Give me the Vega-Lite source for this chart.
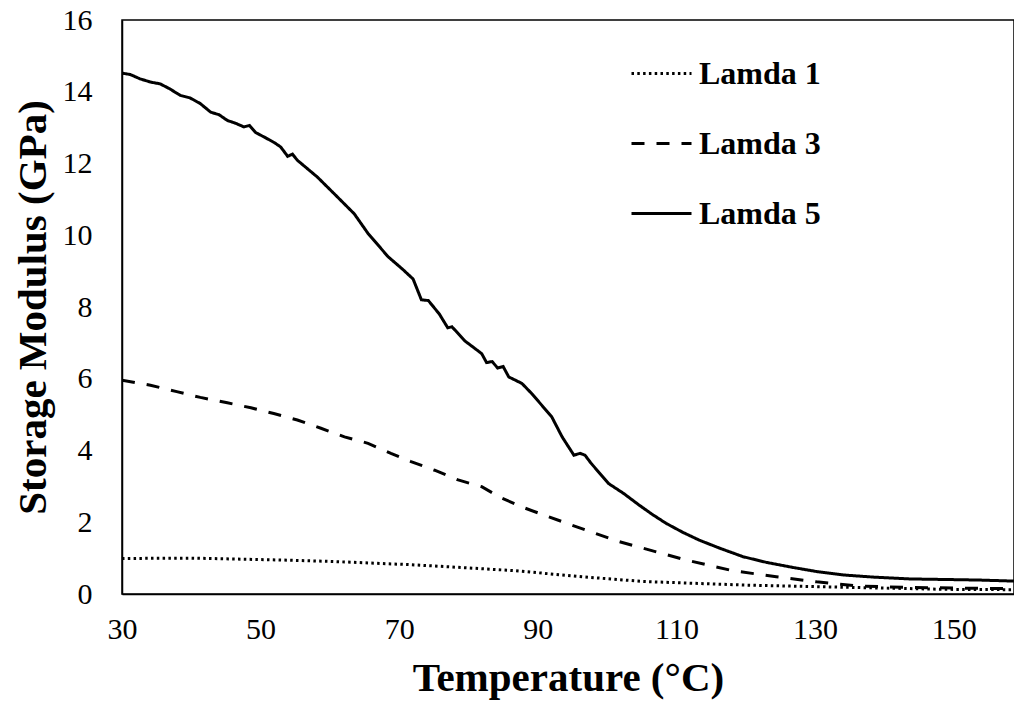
{
  "$schema": "https://vega.github.io/schema/vega-lite/v6.json",
  "width": 892,
  "height": 574,
  "autosize": {"type": "none"},
  "padding": {"left": 122, "top": 20, "right": 0, "bottom": 118},
  "background": "white",
  "config": {
    "font": "Liberation Serif",
    "view": {"stroke": "black", "strokeWidth": 1.5},
    "axis": {
      "labelFont": "Liberation Serif",
      "labelFontSize": 30,
      "labelFontWeight": "normal",
      "labelColor": "black",
      "titleFont": "Liberation Serif",
      "titleFontSize": 41,
      "titleFontWeight": "bold",
      "titleColor": "black",
      "domainColor": "black",
      "domainWidth": 1.5,
      "ticks": false,
      "grid": false
    },
    "legend": {
      "orient": "none",
      "legendX": 508,
      "legendY": 22,
      "symbolType": "stroke",
      "symbolSize": 3600,
      "symbolStrokeWidth": 3,
      "symbolStrokeColor": "black",
      "labelFont": "Liberation Serif",
      "labelFontSize": 32,
      "labelFontWeight": "bold",
      "labelColor": "black",
      "labelOffset": 6,
      "rowPadding": 22,
      "padding": 0
    }
  },
  "data": {
    "values": [
      {"s": "Lamda 5", "t": 30, "v": 14.52},
      {"s": "Lamda 5", "t": 31.2, "v": 14.48},
      {"s": "Lamda 5", "t": 32.6, "v": 14.36},
      {"s": "Lamda 5", "t": 34.1, "v": 14.27},
      {"s": "Lamda 5", "t": 35.5, "v": 14.22},
      {"s": "Lamda 5", "t": 36.9, "v": 14.08},
      {"s": "Lamda 5", "t": 38.4, "v": 13.9},
      {"s": "Lamda 5", "t": 39.8, "v": 13.83},
      {"s": "Lamda 5", "t": 41.3, "v": 13.67},
      {"s": "Lamda 5", "t": 42.8, "v": 13.43},
      {"s": "Lamda 5", "t": 44.0, "v": 13.36},
      {"s": "Lamda 5", "t": 45.2, "v": 13.2},
      {"s": "Lamda 5", "t": 46.4, "v": 13.12},
      {"s": "Lamda 5", "t": 47.6, "v": 13.02},
      {"s": "Lamda 5", "t": 48.4, "v": 13.06},
      {"s": "Lamda 5", "t": 49.3, "v": 12.86},
      {"s": "Lamda 5", "t": 50.5, "v": 12.74},
      {"s": "Lamda 5", "t": 52.0, "v": 12.58},
      {"s": "Lamda 5", "t": 52.9, "v": 12.46},
      {"s": "Lamda 5", "t": 53.9, "v": 12.2},
      {"s": "Lamda 5", "t": 54.6, "v": 12.26},
      {"s": "Lamda 5", "t": 55.3, "v": 12.09},
      {"s": "Lamda 5", "t": 58.2, "v": 11.62},
      {"s": "Lamda 5", "t": 60.6, "v": 11.16},
      {"s": "Lamda 5", "t": 63.5, "v": 10.6},
      {"s": "Lamda 5", "t": 65.5, "v": 10.05},
      {"s": "Lamda 5", "t": 68.4, "v": 9.4},
      {"s": "Lamda 5", "t": 70.5, "v": 9.05},
      {"s": "Lamda 5", "t": 72.0, "v": 8.78},
      {"s": "Lamda 5", "t": 73.2, "v": 8.2},
      {"s": "Lamda 5", "t": 74.2, "v": 8.18},
      {"s": "Lamda 5", "t": 75.8, "v": 7.8},
      {"s": "Lamda 5", "t": 77.0, "v": 7.42},
      {"s": "Lamda 5", "t": 77.6, "v": 7.45},
      {"s": "Lamda 5", "t": 79.5, "v": 7.05},
      {"s": "Lamda 5", "t": 81.9, "v": 6.7},
      {"s": "Lamda 5", "t": 82.6, "v": 6.45},
      {"s": "Lamda 5", "t": 83.4, "v": 6.48},
      {"s": "Lamda 5", "t": 84.2, "v": 6.3},
      {"s": "Lamda 5", "t": 85.0, "v": 6.34},
      {"s": "Lamda 5", "t": 85.8, "v": 6.05},
      {"s": "Lamda 5", "t": 87.7, "v": 5.87},
      {"s": "Lamda 5", "t": 89.1, "v": 5.59},
      {"s": "Lamda 5", "t": 92.0, "v": 4.94},
      {"s": "Lamda 5", "t": 93.5, "v": 4.38},
      {"s": "Lamda 5", "t": 95.2, "v": 3.87},
      {"s": "Lamda 5", "t": 96.1, "v": 3.92},
      {"s": "Lamda 5", "t": 96.8, "v": 3.87},
      {"s": "Lamda 5", "t": 97.7, "v": 3.64},
      {"s": "Lamda 5", "t": 100.2, "v": 3.08},
      {"s": "Lamda 5", "t": 102.4, "v": 2.8},
      {"s": "Lamda 5", "t": 104.6, "v": 2.48},
      {"s": "Lamda 5", "t": 106.5, "v": 2.22},
      {"s": "Lamda 5", "t": 108.5, "v": 1.97},
      {"s": "Lamda 5", "t": 110.9, "v": 1.72},
      {"s": "Lamda 5", "t": 113.3, "v": 1.5},
      {"s": "Lamda 5", "t": 116.2, "v": 1.28},
      {"s": "Lamda 5", "t": 119.6, "v": 1.04},
      {"s": "Lamda 5", "t": 123.0, "v": 0.88},
      {"s": "Lamda 5", "t": 126.8, "v": 0.74},
      {"s": "Lamda 5", "t": 130.4, "v": 0.62},
      {"s": "Lamda 5", "t": 134.1, "v": 0.53},
      {"s": "Lamda 5", "t": 138.5, "v": 0.47},
      {"s": "Lamda 5", "t": 143.7, "v": 0.42},
      {"s": "Lamda 5", "t": 153.4, "v": 0.39},
      {"s": "Lamda 5", "t": 158.7, "v": 0.36},
      {"s": "Lamda 3", "t": 30, "v": 5.96},
      {"s": "Lamda 3", "t": 34.1, "v": 5.82},
      {"s": "Lamda 3", "t": 37.9, "v": 5.64},
      {"s": "Lamda 3", "t": 41.3, "v": 5.48},
      {"s": "Lamda 3", "t": 45.2, "v": 5.33},
      {"s": "Lamda 3", "t": 48.6, "v": 5.19},
      {"s": "Lamda 3", "t": 51.9, "v": 5.03},
      {"s": "Lamda 3", "t": 55.3, "v": 4.85},
      {"s": "Lamda 3", "t": 58.7, "v": 4.62},
      {"s": "Lamda 3", "t": 62.1, "v": 4.38},
      {"s": "Lamda 3", "t": 65.5, "v": 4.2},
      {"s": "Lamda 3", "t": 68.8, "v": 3.92},
      {"s": "Lamda 3", "t": 71.7, "v": 3.69},
      {"s": "Lamda 3", "t": 75.1, "v": 3.45},
      {"s": "Lamda 3", "t": 78.5, "v": 3.18},
      {"s": "Lamda 3", "t": 81.9, "v": 2.99},
      {"s": "Lamda 3", "t": 84.8, "v": 2.67},
      {"s": "Lamda 3", "t": 88.2, "v": 2.39},
      {"s": "Lamda 3", "t": 91.6, "v": 2.15},
      {"s": "Lamda 3", "t": 94.9, "v": 1.92},
      {"s": "Lamda 3", "t": 98.3, "v": 1.69},
      {"s": "Lamda 3", "t": 101.7, "v": 1.46},
      {"s": "Lamda 3", "t": 105.1, "v": 1.28},
      {"s": "Lamda 3", "t": 111.3, "v": 0.95},
      {"s": "Lamda 3", "t": 118.1, "v": 0.65},
      {"s": "Lamda 3", "t": 124.4, "v": 0.48},
      {"s": "Lamda 3", "t": 130.2, "v": 0.34},
      {"s": "Lamda 3", "t": 136.5, "v": 0.22},
      {"s": "Lamda 3", "t": 143.7, "v": 0.18},
      {"s": "Lamda 3", "t": 153.4, "v": 0.16},
      {"s": "Lamda 3", "t": 158.7, "v": 0.15},
      {"s": "Lamda 1", "t": 30, "v": 0.99},
      {"s": "Lamda 1", "t": 40, "v": 1.0},
      {"s": "Lamda 1", "t": 52.4, "v": 0.95},
      {"s": "Lamda 1", "t": 60, "v": 0.91},
      {"s": "Lamda 1", "t": 67.4, "v": 0.85},
      {"s": "Lamda 1", "t": 71.3, "v": 0.82},
      {"s": "Lamda 1", "t": 77.0, "v": 0.76},
      {"s": "Lamda 1", "t": 86.7, "v": 0.65},
      {"s": "Lamda 1", "t": 96.4, "v": 0.48},
      {"s": "Lamda 1", "t": 105.1, "v": 0.35},
      {"s": "Lamda 1", "t": 119.6, "v": 0.25},
      {"s": "Lamda 1", "t": 134.0, "v": 0.19},
      {"s": "Lamda 1", "t": 148.5, "v": 0.13},
      {"s": "Lamda 1", "t": 158.7, "v": 0.12}
    ]
  },
  "mark": {"type": "line", "color": "black", "strokeWidth": 3, "clip": true},
  "encoding": {
    "x": {
      "field": "t",
      "type": "quantitative",
      "scale": {"domain": [30, 158.7], "nice": false, "zero": false},
      "axis": {
        "title": "Temperature (°C)",
        "values": [30, 50, 70, 90, 110, 130, 150],
        "labelFont": "Liberation Serif",
        "labelPadding": 20,
        "titlePadding": 14,
        "labelFlush": false
      }
    },
    "y": {
      "field": "v",
      "type": "quantitative",
      "scale": {"domain": [0, 16], "nice": false},
      "axis": {
        "title": "Storage Modulus (GPa)",
        "values": [0, 2, 4, 6, 8, 10, 12, 14, 16],
        "labelFont": "Liberation Serif",
        "labelPadding": 30,
        "titlePadding": 8,
        "labelFlush": false
      }
    },
    "strokeDash": {
      "field": "s",
      "type": "nominal",
      "scale": {
        "domain": ["Lamda 1", "Lamda 3", "Lamda 5"],
        "range": [[2.5, 3.3], [13, 12], [1, 0]]
      },
      "legend": {"title": null}
    },
    "detail": {"field": "s"},
    "order": {"field": "t", "type": "quantitative"}
  }
}
